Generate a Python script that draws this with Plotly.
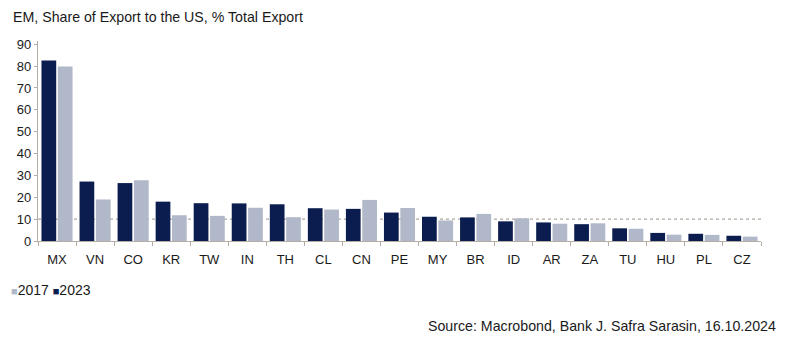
import plotly.graph_objects as go

countries = ["MX", "VN", "CO", "KR", "TW", "IN", "TH", "CL", "CN", "PE",
             "MY", "BR", "ID", "AR", "ZA", "TU", "HU", "PL", "CZ"]
share_2023 = [82.6, 27.2, 26.5, 18.0, 17.3, 17.2, 16.8, 15.0, 14.7, 13.0,
              11.1, 10.8, 9.0, 8.5, 7.7, 5.8, 3.7, 3.3, 2.4]
share_2017 = [79.8, 19.0, 27.8, 11.8, 11.5, 15.2, 10.9, 14.4, 18.8, 15.1,
              9.4, 12.4, 10.4, 7.9, 8.1, 5.6, 2.9, 2.8, 2.0]
y_ticks = [0, 10, 20, 30, 40, 50, 60, 70, 80, 90]
reference_level = 10

navy = "#0b1c4f"
grey_blue = "#b1b8c9"
axis_col = "#b5aca3"
font = "Liberation Sans"

fig = go.Figure()
fig.add_bar(x=countries, y=share_2023, name="2023", marker_color=navy,
            marker_line_width=0)
fig.add_bar(x=countries, y=share_2017, name="2017", marker_color=grey_blue,
            marker_line_width=0)

fig.add_shape(type="line", xref="paper", x0=0, x1=1, yref="y",
              y0=reference_level, y1=reference_level,
              line=dict(color="#b0a89f", width=1.3, dash="dot"), layer="below")

fig.update_layout(
    width=792, height=345,
    margin=dict(l=38, r=31, t=41, b=104),
    paper_bgcolor="white", plot_bgcolor="white",
    barmode="group", bargap=0.14, bargroupgap=0.1,
    showlegend=False,
    font=dict(family=font, size=13, color="#1a1a1a"),
    annotations=[
        dict(text="EM, Share of Export to the US, % Total Export",
             xref="paper", yref="paper", x=-0.037, y=1.0, yanchor="bottom",
             xanchor="left", yshift=14, showarrow=False,
             font=dict(size=14.2, color="#1a1a1a")),
        dict(text=f"<span style='color:{grey_blue};font-size:11px'>■</span>2017 "
                  f"<span style='color:{navy};font-size:11px'>■</span>2023",
             xref="paper", yref="paper", x=-0.04, y=0, yshift=-49,
             xanchor="left", yanchor="middle", showarrow=False,
             font=dict(size=14, color="#1a1a1a")),
        dict(text="Source: Macrobond, Bank J. Safra Sarasin, 16.10.2024",
             xref="paper", yref="paper", x=1.024, y=0, yshift=-85,
             xanchor="right", yanchor="middle", showarrow=False,
             font=dict(size=14.2, color="#1a1a1a")),
    ],
)

fig.update_xaxes(
    type="category", showline=True, linecolor=axis_col, linewidth=1.3,
    ticks="outside", tickson="boundaries", ticklen=4, tickcolor=axis_col,
    showgrid=False, tickfont=dict(size=13), ticklabelstandoff=6,
)
fig.update_yaxes(
    range=[0, 91.5], tickvals=y_ticks, showline=True, linecolor=axis_col,
    linewidth=1.3, ticks="outside", ticklen=3, tickcolor=axis_col,
    showgrid=False, zeroline=False, tickfont=dict(size=13),
)

fig.write_html("out.html")
